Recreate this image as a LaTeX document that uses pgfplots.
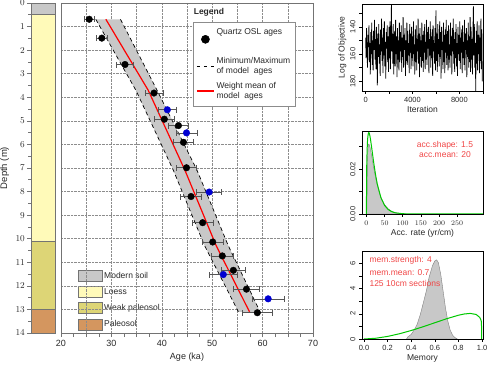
\documentclass[border=0pt]{standalone}
\usepackage{fontspec}
\setmainfont{Liberation Sans}
\usepackage{pgfplots}
\pgfplotsset{compat=1.18}
\usepackage{pgfplotstable}

\definecolor{bandgray}{RGB}{200,200,200}
\definecolor{modsoil}{RGB}{200,200,200}
\definecolor{loess}{RGB}{255,250,185}
\definecolor{weakpal}{RGB}{221,213,118}
\definecolor{paleosol}{RGB}{212,150,95}
\definecolor{outl}{RGB}{115,115,115}
\definecolor{errc}{RGB}{85,85,85}
\definecolor{ptblue}{RGB}{0,0,210}
\definecolor{rtext}{RGB}{240,70,70}
\definecolor{rgreen}{RGB}{0,200,0}
\definecolor{txt}{RGB}{40,40,40}
\definecolor{mred}{RGB}{255,0,0}

\newcommand\fm{\fontsize{9}{10.5}\selectfont}
\newcommand\fl{\fontsize{8.5}{10}\selectfont}
\newcommand\fs{\fontsize{7.5}{9}\selectfont}

% Quartz OSL ages (black)
\pgfplotstableread{
depth age err
0.69 25.6 1.05
1.49 28.1 1.1
2.61 32.7 1.7
3.82 38.45 1.8
4.93 40.5 1.9
5.20 43.3 2.0
5.91 44.3 2.0
6.99 44.9 2.0
8.21 45.8 2.1
9.32 48.1 2.05
10.14 50.1 2.1
10.73 52.0 2.15
11.34 54.2 2.3
12.14 56.8 2.6
13.14 58.95 3.0
}\blackpts
% Quartz OSL ages (blue)
\pgfplotstableread{
depth age err
4.53 41.1 1.75
5.51 44.9 2.1
8.02 49.4 2.5
11.52 52.2 2.8
12.55 61.1 3.15
}\bluepts
% model band
\pgfplotstableread{
depth age
0.69 26.9
3.72 34.9
7.1 42.3
10.3 48.5
13.1 55.2
13.1 59.5
10.3 53.2
7.1 47.0
3.72 39.1
0.69 31.8
}\band
\pgfplotstableread{
depth age
0.69 26.9
3.72 34.9
7.1 42.3
10.3 48.5
13.1 55.2
}\minline
\pgfplotstableread{
depth age
0.69 31.8
3.72 39.1
7.1 47.0
10.3 53.2
13.1 59.5
}\maxline
\pgfplotstableread{
depth age
0.69 28.9
3.70 37.3
7.10 44.6
10.30 50.8
13.10 57.4
}\meanline

\begin{document}
\begin{tikzpicture}
\path[use as bounding box] (0pt,0pt) rectangle (489pt,366pt);

% ---------------- stratigraphic column ----------------
\begin{axis}[
  at={(31pt,33pt)}, anchor=south west, scale only axis,
  width=24pt, height=330pt,
  xmin=0, xmax=1, ymin=0, ymax=14, y dir=reverse,
  xtick=\empty,
  ytick={0,1,...,14}, minor y tick num=1,
  ytick pos=left, tick align=outside,
  major tick length=4pt, minor tick length=2.5pt,
  tick style={outl, line width=0.6pt},
  axis line style={outl, line width=0.6pt},
  ticklabel style={font=\fm, text=txt},
  yticklabel style={inner xsep=2pt},
  ylabel={Depth (m)}, ylabel style={font=\fontsize{9.5}{11}\selectfont, text=txt, yshift=1pt},
  legend style={at={(axis description cs:1.95,0.192)}, anchor=north west,
    draw=none, fill=none, font=\fl, text=txt, row sep=4.6pt, inner sep=0pt,
    cells={anchor=west}},
  legend cell align=left,
]
\addlegendimage{legend image code/.code={\draw[fill=modsoil,draw=outl,line width=0.7pt] (0pt,-5.5pt) rectangle (23.5pt,5.5pt);}}
\addlegendentry{Modern soil}
\addlegendimage{legend image code/.code={\draw[fill=loess,draw=outl,line width=0.7pt] (0pt,-5.5pt) rectangle (23.5pt,5.5pt);}}
\addlegendentry{Loess}
\addlegendimage{legend image code/.code={\draw[fill=weakpal,draw=outl,line width=0.7pt] (0pt,-5.5pt) rectangle (23.5pt,5.5pt);}}
\addlegendentry{Weak paleosol}
\addlegendimage{legend image code/.code={\draw[fill=paleosol,draw=outl,line width=0.7pt] (0pt,-5.5pt) rectangle (23.5pt,5.5pt);}}
\addlegendentry{Paleosol}
\addplot[fill=modsoil, draw=outl, line width=0.6pt, forget plot] coordinates {(0,0) (1,0) (1,0.5) (0,0.5)} --cycle;
\addplot[fill=loess, draw=outl, line width=0.6pt, forget plot] coordinates {(0,0.5) (1,0.5) (1,10.1) (0,10.1)} --cycle;
\addplot[fill=weakpal, draw=outl, line width=0.6pt, forget plot] coordinates {(0,10.1) (1,10.1) (1,13) (0,13)} --cycle;
\addplot[fill=paleosol, draw=outl, line width=0.6pt, forget plot] coordinates {(0,13) (1,13) (1,14) (0,14)} --cycle;
\end{axis}

% ---------------- age-depth plot ----------------
\begin{axis}[
  at={(61pt,33pt)}, anchor=south west, scale only axis,
  width=252pt, height=330pt,
  xmin=20, xmax=70, ymin=0, ymax=14, y dir=reverse,
  xtick={20,25,...,70}, xticklabels={20,,30,,40,,50,,60,,70},
  minor x tick num=1,
  ytick={0,1,...,14}, yticklabels={}, ytick style={draw=none},
  xtick pos=bottom, tick align=outside,
  major tick length=4pt, minor tick length=4pt,
  tick style={outl, line width=0.6pt},
  axis line style={black!55, line width=0.8pt},
  grid=major, grid style={densely dotted, black!45, line width=0.5pt},
  ticklabel style={font=\fm, text=txt},
  xlabel={Age (ka)}, xlabel style={font=\fm, text=txt, yshift=1pt},
  legend style={at={(axis description cs:0.524,0.943)}, anchor=north west,
    draw=black!45, line width=0.6pt, fill=white, font=\fl, text=txt,
    row sep=3pt, inner xsep=3pt, inner ysep=4pt,
    cells={anchor=west, align=left}},
  legend cell align=left,
]
\addlegendimage{only marks, mark=*, mark size=4pt, black}
\addlegendentry{Quartz OSL ages\\[5pt]\mbox{}}
\addlegendimage{black, line width=0.7pt, dash pattern=on 3pt off 4pt}
\addlegendentry{Minimum/Maximum\\of model\ \ ages}
\addlegendimage{legend image code/.code={\draw[mred, line width=1.1pt] (0pt,0pt) -- (0.6cm,0pt);}}
\addlegendentry{Weight mean of\\model\ \ ages}

\addplot[fill=bandgray, draw=none, forget plot] table[x=age, y=depth]{\band} --cycle;
\addplot[black, line width=0.7pt, dash pattern=on 4pt off 3pt, forget plot] table[x=age, y=depth]{\minline};
\addplot[black, line width=0.7pt, dash pattern=on 4pt off 3pt, forget plot] table[x=age, y=depth]{\maxline};
\addplot[mred, line width=1.2pt, forget plot] table[x=age, y=depth]{\meanline};
\addplot[only marks, mark=*, mark size=3.3pt, black, forget plot,
  error bars/.cd, x dir=both, x explicit,
  error bar style={errc, line width=0.6pt},
  error mark options={errc, mark size=3pt, line width=0.6pt, rotate=90}]
  table[x=age, y=depth, x error=err]{\blackpts};
\addplot[only marks, mark=*, mark size=3.3pt, ptblue, forget plot,
  error bars/.cd, x dir=both, x explicit,
  error bar style={errc, line width=0.6pt},
  error mark options={errc, mark size=3pt, line width=0.6pt, rotate=90}]
  table[x=age, y=depth, x error=err]{\bluepts};
\node[font=\bfseries\fl, text=txt] at (axis description cs:0.587,0.973) {Legend};
\end{axis}

% ---------------- trace ----------------
\begin{axis}[
  at={(362pt,275pt)}, anchor=south west, scale only axis,
  width=121pt, height=87pt,
  xmin=-310, xmax=10020, ymin=123.3, ymax=187.1, y dir=reverse,
  xtick={0,2000,...,10000}, xticklabels={0,,4000,,8000,},
  ytick={130,140,...,180}, yticklabels={,140,,160,,180},
  scaled x ticks=false, scaled y ticks=false,
  tick align=outside, xtick pos=bottom, ytick pos=left,
  major tick length=3pt, tick style={black, line width=0.5pt},
  axis line style={black, line width=0.5pt},
  xticklabel style={font=\fs, text=txt},
  yticklabel style={font=\fs, text=txt, rotate=90, anchor=south},
  xlabel={Iteration}, ylabel={Log of Objective},
  xlabel style={font=\fl, text=txt, yshift=3pt},
  ylabel style={font=\fl, text=txt, yshift=-3pt},
]
\addplot[black, line width=0.75pt] coordinates {
(0,148)(40,163)(80,141)(120,158)(160,170)(200,146)(240,155)(280,139)(320,166)(360,152)(400,175)(440,144)(480,160)(520,137)(560,168)(600,150)(640,172)(680,143)(720,157)(760,135)(800,164)(840,149)(880,171)(920,140)(960,159)
(1000,183)(1040,145)(1080,162)(1120,138)(1160,167)(1200,153)(1240,176)(1280,142)(1320,158)(1360,134)(1400,165)(1440,148)(1480,174)(1520,141)(1560,161)(1600,136)(1640,169)(1680,151)(1720,178)(1760,144)(1800,156)(1840,139)(1880,166)(1920,147)(1960,173)
(2000,140)(2040,163)(2080,136)(2120,171)(2160,149)(2200,124)(2240,158)(2280,145)(2320,167)(2360,138)(2400,175)(2440,152)(2480,143)(2520,169)(2560,135)(2600,160)(2640,147)(2680,177)(2720,141)(2760,164)(2800,150)(2840,172)(2880,137)(2920,166)(2960,144)
(3000,158)(3040,139)(3080,173)(3120,148)(3160,162)(3200,133)(3240,170)(3280,146)(3320,157)(3360,141)(3400,176)(3440,150)(3480,165)(3520,137)(3560,168)(3600,143)(3640,161)(3680,152)(3720,174)(3760,138)(3800,159)(3840,145)(3880,171)(3920,140)(3960,163)
(4000,147)(4040,169)(4080,136)(4120,160)(4160,153)(4200,175)(4240,142)(4280,166)(4320,139)(4360,172)(4400,149)(4440,158)(4480,134)(4520,167)(4560,145)(4600,177)(4640,141)(4680,162)(4720,150)(4760,170)(4800,137)(4840,165)(4880,146)(4920,173)(4960,143)
(5000,159)(5040,138)(5080,171)(5120,151)(5160,164)(5200,135)(5240,168)(5280,144)(5320,156)(5360,140)(5400,174)(5440,149)(5480,161)(5520,136)(5560,170)(5600,147)(5640,163)(5680,142)(5720,176)(5760,139)(5800,158)(5840,152)(5880,167)(5920,141)(5960,172)
(6000,128)(6040,165)(6080,145)(6120,173)(6160,138)(6200,160)(6240,149)(6280,169)(6320,136)(6360,162)(6400,144)(6440,178)(6480,140)(6520,157)(6560,151)(6600,171)(6640,137)(6680,166)(6720,146)(6760,174)(6800,142)(6840,159)(6880,135)(6920,168)(6960,150)
(7000,143)(7040,172)(7080,139)(7120,164)(7160,153)(7200,170)(7240,137)(7280,161)(7320,147)(7360,175)(7400,141)(7440,158)(7480,134)(7520,167)(7560,149)(7600,173)(7640,144)(7680,163)(7720,138)(7760,169)(7800,152)(7840,176)(7880,140)(7920,160)(7960,146)
(8000,165)(8040,136)(8080,171)(8120,148)(8160,159)(8200,142)(8240,174)(8280,139)(8320,163)(8360,151)(8400,168)(8440,135)(8480,172)(8520,145)(8560,157)(8600,141)(8640,177)(8680,150)(8720,162)(8760,137)(8800,170)(8840,147)(8880,166)(8920,133)(8960,173)
(9000,140)(9040,164)(9080,149)(9120,175)(9160,144)(9200,125)(9240,161)(9280,138)(9320,170)(9360,152)(9400,187)(9440,143)(9480,167)(9520,136)(9560,172)(9600,146)(9640,160)(9680,139)(9720,174)(9760,148)(9800,165)(9840,134)(9880,171)(9920,142)(9960,180)
};
\end{axis}

% ---------------- accumulation rate ----------------
\begin{axis}[
  at={(362pt,152pt)}, anchor=south west, scale only axis,
  width=121pt, height=83pt,
  xmin=-12, xmax=321, ymin=0, ymax=0.037,
  xtick={0,50,...,250},
  ytick={0,0.01,0.02,0.03}, yticklabels={0.00,,0.02,},
  scaled x ticks=false, scaled y ticks=false,
  tick align=outside, xtick pos=bottom, ytick pos=left,
  major tick length=3pt, tick style={black, line width=0.5pt},
  axis line style={black, line width=0.5pt},
  xticklabel style={font=\fs, text=txt},
  yticklabel style={font=\fs, text=txt, rotate=90, anchor=south},
  xlabel={Acc. rate (yr/cm)},
  xlabel style={font=\fl, text=txt, yshift=3pt},
]
\addplot[fill=bandgray, draw=black!50, line width=0.4pt] coordinates {
(1,0)(2,0.010)(3,0.022)(4,0.028)(5,0.0305)(6,0.031)(7,0.0312)(8,0.0308)(10,0.0298)(12,0.0282)(15,0.0255)(20,0.0208)(25,0.0165)(30,0.0128)(35,0.0098)(40,0.0074)(50,0.0042)(60,0.0023)(70,0.0012)(80,0.0006)(90,0.0003)(100,0.0001)(110,0)} --cycle;
\addplot[rgreen, line width=1pt] coordinates {
(0,0)(1,0.0215)(2,0.0282)(3,0.0321)(4,0.0343)(5,0.0356)(6,0.0362)(7,0.0363)(8,0.0360)(10,0.0346)(12,0.0326)(15,0.0291)(20,0.0231)(25,0.0178)(30,0.0134)(40,0.0073)(50,0.00385)(60,0.00199)(70,0.00102)(80,0.00051)(100,0.00013)(120,0.00003)(150,0)(321,0)};
\node[font=\fl, text=rtext] at (axis description cs:0.686,0.831) {acc.shape: 1.5};
\node[font=\fl, text=rtext] at (axis description cs:0.686,0.715) {acc.mean: 20};
\end{axis}

% ---------------- memory ----------------
\begin{axis}[
  at={(362pt,27pt)}, anchor=south west, scale only axis,
  width=121pt, height=88pt,
  xmin=-0.017, xmax=1.008, ymin=0, ymax=7.0,
  xtick={0,0.2,0.4,0.6,0.8,1.0}, xticklabels={0.0,0.2,0.4,0.6,0.8,1.0},
  ytick={0,1,...,6}, yticklabels={0,,2,,4,,6},
  tick align=outside, xtick pos=bottom, ytick pos=left,
  major tick length=3pt, tick style={black, line width=0.5pt},
  axis line style={black, line width=0.5pt},
  xticklabel style={font=\fs, text=txt},
  yticklabel style={font=\fs, text=txt, rotate=90, anchor=south},
  xlabel={Memory},
  xlabel style={font=\fl, text=txt, yshift=3pt},
]
\addplot[fill=bandgray, draw=black!50, line width=0.4pt] coordinates {
(0.36,0)(0.37,0.16)(0.40,0.37)(0.43,0.8)(0.45,1.17)(0.477,1.95)(0.50,2.79)(0.53,3.9)(0.55,4.86)(0.58,5.84)(0.60,6.21)(0.615,6.3)(0.63,6.07)(0.65,5.15)(0.67,3.82)(0.69,2.48)(0.71,1.42)(0.73,0.71)(0.75,0.31)(0.77,0.12)(0.79,0)} --cycle;
\addplot[rgreen, line width=1pt] coordinates {
(0,0)(0.1,0.061)(0.2,0.206)(0.3,0.416)(0.4,0.676)(0.5,0.974)(0.6,1.294)(0.7,1.613)(0.8,1.891)(0.85,1.991)(0.9,2.034)(0.95,1.952)(0.98,1.719)(0.99,1.524)(0.995,1.339)(0.996,0)};
\node[font=\fl, text=rtext, anchor=west] at (axis description cs:0.033,0.89) {mem.strength: 4};
\node[font=\fl, text=rtext, anchor=west] at (axis description cs:0.033,0.758) {mem.mean: 0.7};
\node[font=\fl, text=rtext, anchor=west] at (axis description cs:0.033,0.628) {125 10cm sections};
\end{axis}
\end{tikzpicture}
\end{document}
